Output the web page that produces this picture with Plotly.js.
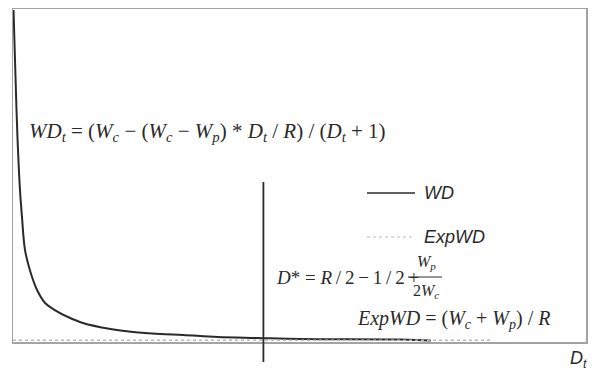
<!DOCTYPE html>
<html>
<head>
<meta charset="utf-8">
<script src="https://cdn.plot.ly/plotly-3.0.1.min.js"></script>
<style>
  html, body { margin: 0; padding: 0; background: #fff; }
  #chart { width: 597px; height: 369px; }
</style>
</head>
<body>
<div id="chart"></div>
<script>
// Days D_t (relative units) and the waiting-days curve WD
const days = [0.09, 0.35, 0.61, 0.87, 1.22, 1.57, 2.1, 3.1, 4.2, 5.6, 7.3, 9.6, 12.2, 17.0, 21.0, 25.7, 29.7, 35.7, 42.7, 50.2, 67.7, 72.9];
const wdValues = [99.7, 84.7, 69.7, 57.7, 45.6, 37.5, 27.6, 20.7, 15.6, 11.7, 9.6, 7.5, 5.7, 3.9, 3.0, 2.4, 2.1, 1.5, 1.2, 0.9, 0.75, 0.45];

// Expected waiting days (flat level)
const expDays = [0, 83.6];
const expWdValues = [0.5, 0.5];

// Optimal day D*
const dStar = 43.7;

const seriesNames = ['WD', 'ExpWD'];

// Plot area in page pixels
const W = 597, H = 369;
const M = { l: 13, r: 11, t: 9, b: 27 };
const plotW = W - M.l - M.r, plotH = H - M.t - M.b;
const px = x => (x - M.l) / plotW;            // page x -> paper x
const py = y => (H - M.b - y) / plotH;        // page y -> paper y

const ink = '#2a2a2a';
const serif = "'Liberation Serif', 'Times New Roman', Times, serif";
const sans = "'Liberation Sans', Arial, Helvetica, sans-serif";
const thin = '\u2009';

const traces = [
  {
    x: days, y: wdValues, name: seriesNames[0], type: 'scatter', mode: 'lines',
    line: { color: ink, width: 2, shape: 'spline', smoothing: 1 },
    hoverinfo: 'skip'
  },
  {
    x: expDays, y: expWdValues, name: seriesNames[1], type: 'scatter', mode: 'lines',
    line: { color: '#b8b8b8', width: 1.5, dash: 'dot' },
    hoverinfo: 'skip'
  }
];

const axisBase = {
  showgrid: false, zeroline: false, showticklabels: false, ticks: '',
  showline: true, mirror: true, linecolor: '#a3a3a3', linewidth: 1.5, fixedrange: true
};

const shapes = [
  // D* marker line, running past the bottom of the frame
  { type: 'line', xref: 'x', yref: 'paper', x0: dStar, x1: dStar, y0: py(362), y1: py(182),
    line: { color: ink, width: 1.8 } },
  // legend keys
  { type: 'line', xref: 'paper', yref: 'paper', x0: px(367), x1: px(415), y0: py(193), y1: py(193),
    line: { color: ink, width: 1.5 } },
  { type: 'line', xref: 'paper', yref: 'paper', x0: px(367), x1: px(415), y0: py(237), y1: py(237),
    line: { color: '#b8b8b8', width: 1.2, dash: 'dot' } },
  // fraction bar in the D* formula
  { type: 'line', xref: 'paper', yref: 'paper', x0: px(408), x1: px(442), y0: py(277), y1: py(277),
    line: { color: ink, width: 1 } }
];

const note = (text, x, y, opts) => Object.assign({
  text, xref: 'paper', yref: 'paper', x: px(x), y: py(y),
  xanchor: 'left', yanchor: 'middle', showarrow: false,
  font: { family: serif, size: 21, color: ink }
}, opts || {});

const sub = s => '<sub><i>' + s + '</i></sub>';

const annotations = [
  note('<i>WD</i>' + sub('t') + ' = (<i>W</i>' + sub('c') + ' − (<i>W</i>' + sub('c') + ' − <i>W</i>' + sub('p') +
       ') * <i>D</i>' + sub('t') + ' / <i>R</i>) / (<i>D</i>' + sub('t') + ' + 1)', 27, 132),
  note(seriesNames[0], 422, 193, { font: { family: sans, size: 18, color: ink, style: 'italic' } }),
  note(seriesNames[1], 422, 237, { font: { family: sans, size: 18, color: ink, style: 'italic' } }),
  note('<i>D</i>* = <i>R</i>' + thin + '/' + thin + '2' + thin + '−' + thin + '1' + thin + '/' + thin + '2' + thin + '+',
       274, 277, { font: { family: serif, size: 19, color: ink } }),
  note('<i>W</i>' + sub('p'), 426, 262, { xanchor: 'center', font: { family: serif, size: 16, color: ink } }),
  note('2<i>W</i>' + sub('c'), 426, 291, { xanchor: 'center', font: { family: serif, size: 16, color: ink } }),
  note('<i>ExpWD</i> = (<i>W</i>' + sub('c') + ' + <i>W</i>' + sub('p') + ') / <i>R</i>', 355, 319, { font: { family: serif, size: 20, color: ink } }),
  note('<i>D</i>' + sub('t'), 568, 359, { font: { family: sans, size: 18, color: ink } })
];

const layout = {
  width: W, height: H,
  margin: M,
  paper_bgcolor: '#ffffff', plot_bgcolor: '#ffffff',
  showlegend: false,
  xaxis: Object.assign({ range: [0, 100] }, axisBase),
  yaxis: Object.assign({ range: [0, 100] }, axisBase),
  shapes, annotations
};

Plotly.newPlot('chart', traces, layout, { staticPlot: true, displayModeBar: false });
</script>
</body>
</html>
